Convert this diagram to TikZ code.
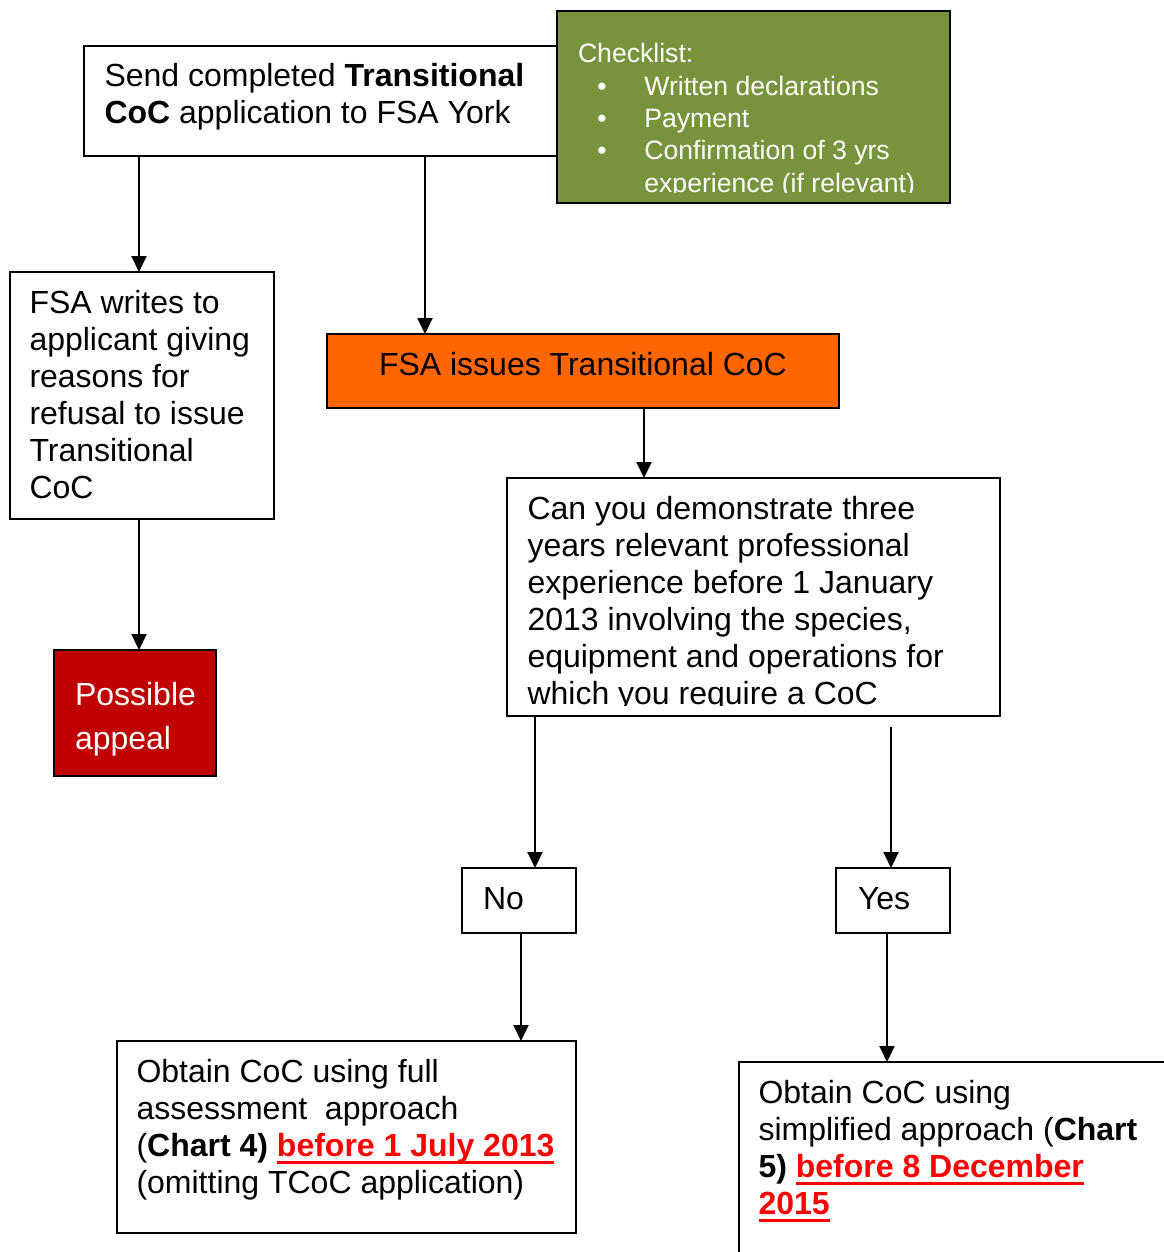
\documentclass[tikz,border=0pt]{standalone}
\usepackage{fontspec}
\setmainfont{Liberation Sans}
\usetikzlibrary{arrows.meta}
\definecolor{Olive}{HTML}{77933C}
\definecolor{Orange}{HTML}{FF6600}
\definecolor{DarkRed}{HTML}{C00000}
\definecolor{Red}{HTML}{FF0000}
\newsavebox\dueBox
\newcommand\due[1]{\sbox\dueBox{\color{Red}\textbf{#1}}{\color{Red}\rlap{\rule[-3.75pt]{\wd\dueBox}{1.25pt}}}\usebox\dueBox}
\newcommand\topstrut{\rule{0pt}{0.8em}}

\begin{document}
\begin{tikzpicture}[
    x=0.5pt, y=-0.5pt,
    >={Triangle[width=7.5pt, length=8pt]},
    line width=1pt,
    box/.style={draw, rectangle, anchor=north west, inner sep=0pt, outer sep=0pt},
    txt/.style={anchor=north west, inner sep=0pt, align=left, font=\fontsize{16}{18.5}\selectfont},
    smallTxt/.style={txt, text=white, font=\fontsize{13.3}{16.15}\selectfont},
  ]
  \useasboundingbox (0,0) rectangle (1163,1252);
  % boxes
  \node[box, minimum width=236.5pt, minimum height=55pt] (send) at (84,46) {};
  \node[box, fill=Olive, minimum width=196.5pt, minimum height=96pt] (check) at (557,11) {};
  \node[box, minimum width=132pt, minimum height=123.5pt] (refuse) at (10,272) {};
  \node[box, fill=DarkRed, minimum width=81pt, minimum height=63pt] (appeal) at (54,650) {};
  \node[box, fill=Orange, minimum width=256pt, minimum height=37pt] (issue) at (327,334) {};
  \node[box, minimum width=246.5pt, minimum height=119pt] (question) at (507,478) {};
  \node[box, minimum width=57pt, minimum height=32.5pt] (no) at (462,868) {};
  \node[box, minimum width=57pt, minimum height=32.5pt] (yes) at (836,868) {};
  \node[box, minimum width=229.5pt, minimum height=96pt] (full) at (117,1041) {};
  \node[box, minimum width=250pt, minimum height=125pt] (simple) at (739,1062) {};
  % texts
  \node[txt] (sendTxt) at (103.5,60) {\topstrut Send completed \textbf{Transitional}\\\textbf{CoC} application to FSA York};
  \begin{scope}
    \clip (check.north west) rectangle ([yshift=5.5pt]check.south east);
    \node[smallTxt] (checkTxt) at (577,40.7) {\topstrut Checklist:\\
      \hspace*{9.7pt}\makebox[23.5pt][l]{\textbullet}Written declarations\\
      \hspace*{9.7pt}\makebox[23.5pt][l]{\textbullet}Payment\\
      \hspace*{9.7pt}\makebox[23.5pt][l]{\textbullet}Confirmation of 3 yrs\\
      \hspace*{33.2pt}experience (if relevant)};
  \end{scope}
  \node[txt] (refuseTxt) at (28.5,286.4) {\topstrut FSA writes to\\applicant giving\\reasons for\\refusal to issue\\Transitional\\CoC};
  \node[txt, text=white, font=\fontsize{16}{22}\selectfont] (appealTxt) at (74,679) {\topstrut Possible\\appeal};
  \node[txt] (issueTxt) at (378,348.4) {\topstrut FSA issues Transitional CoC};
  \begin{scope}
    \clip (question.north west) rectangle ([yshift=5.5pt]question.south east);
    \node[txt] (questionTxt) at (526.5,492.4) {\topstrut Can you demonstrate three\\years relevant professional\\experience before 1 January\\2013 involving the species,\\equipment and operations for\\which you require a CoC};
  \end{scope}
  \node[txt] (noTxt) at (482,882.4) {\topstrut No};
  \node[txt] (yesTxt) at (857,882.4) {\topstrut Yes};
  \node[txt] (fullTxt) at (135.5,1055.4) {\topstrut Obtain CoC using full\\assessment\ \ approach\\(\textbf{Chart 4)} \due{before 1 July 2013}\\(omitting TCoC application)};
  \node[txt] (simpleTxt) at (757.5,1076.4) {\topstrut Obtain CoC using\\simplified approach (\textbf{Chart}\\\textbf{5)} \due{before 8 December}\\\due{2015}};
  % lines
  \draw[->] ([xshift=27.5pt]send.south west) coordinate (s1) -- (s1 |- refuse.north);
  \draw[->] ([xshift=170.5pt]send.south west) coordinate (s2) -- (s2 |- issue.north);
  \draw[->] ([xshift=64.5pt]refuse.south west) coordinate (r1) -- (r1 |- appeal.north);
  \draw[->] ([xshift=158.5pt]issue.south west) coordinate (i1) -- (i1 |- question.north);
  \draw[->] ([xshift=14pt]question.south west) coordinate (q1) -- (q1 |- no.north);
  \coordinate (yesStart) at (891,727);
  \draw[->] (yesStart) -- (yesStart |- yes.north);
  \draw[->] ([xshift=29.5pt]no.south west) coordinate (n1) -- (n1 |- full.north);
  \draw[->] ([xshift=25.5pt]yes.south west) coordinate (y1) -- (y1 |- simple.north);
\end{tikzpicture}
\end{document}
